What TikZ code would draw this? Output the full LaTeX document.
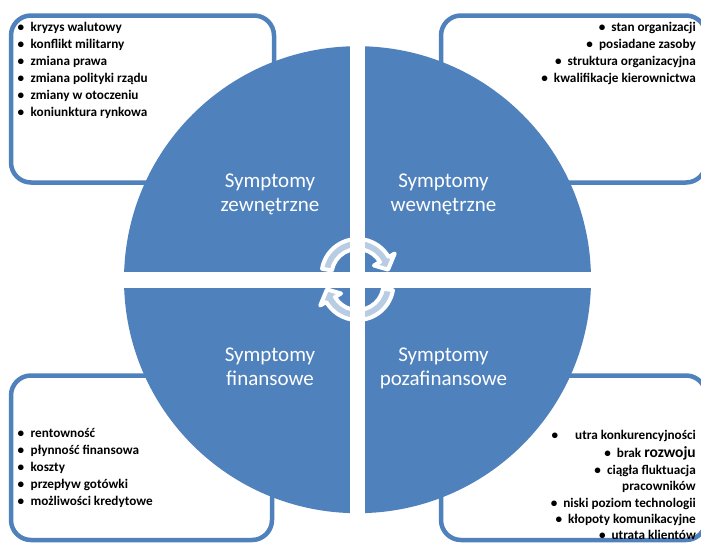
\documentclass[tikz,border=0pt]{standalone}
\usepackage{fontspec}
\setmainfont{Carlito}
\usetikzlibrary{calc}
\definecolor{accent}{HTML}{4F81BD}
\begin{document}
\begin{tikzpicture}[x=1pt,y=1pt,
  box/.style={draw=accent, line width=4.5pt, rounded corners=20pt, fill=white},
  item/.style={font=\fontsize{13.2}{15}\selectfont\bfseries, inner sep=0pt, text=black},
  litem/.style={item, anchor=base west},
  ritem/.style={item, anchor=base east},
  qlabel/.style={font=\fontsize{21}{24}\selectfont, text=white, align=center, inner sep=0pt, anchor=base},
  cyc/.style={fill=white, fill opacity=0.6, draw=white, draw opacity=1, line width=4pt, line join=round}]
\useasboundingbox (0,0) rectangle (701,-544);
% corner boxes
\draw[box] (11,-15.5) rectangle (274,-182.5);
\draw[box] (441,-15.5) rectangle (706,-182.5);
\draw[box] (11,-375.5) rectangle (272,-540);
\draw[box] (441,-375.5) rectangle (706,-540);
% circle with cross
\coordinate (o) at (357.5,-279.7);
\fill[accent] (o) circle (233.5);
\begin{scope}
  \clip (o) circle (234.5);
  \fill[white] (349.5,-30) rectangle (365.3,-530);
  \fill[white] (100,-271.7) rectangle (620,-287.7);
\end{scope}
% cycle arrows
\coordinate (c1) at (357.5,-275);
\coordinate (c2) at (357.5,-284);
\filldraw[cyc] ($(c1)+(170:36)$) arc[start angle=170,end angle=30,radius=36]
  -- ($(c1)+(30:43)$) -- ($(c1)+(10:31)$) -- ($(c1)+(30:19)$) -- ($(c1)+(30:26)$)
  arc[start angle=30,end angle=170,radius=26] -- cycle;
\filldraw[cyc] ($(c2)+(-10:36)$) arc[start angle=-10,end angle=-150,radius=36]
  -- ($(c2)+(-150:43)$) -- ($(c2)+(-170:31)$) -- ($(c2)+(-150:19)$) -- ($(c2)+(-150:26)$)
  arc[start angle=-150,end angle=-10,radius=26] -- cycle;
% quadrant labels
\node[qlabel] (q1) at (270,-211) {Symptomy\\zewnętrzne};
\node[qlabel] (q2) at (443.5,-211) {Symptomy\\wewnętrzne};
\node[qlabel] (q3) at (270,-385) {Symptomy\\finansowe};
\node[qlabel] (q4) at (443.5,-385) {Symptomy\\pozafinansowe};
% top-left list
\node[litem] (tl1) at (17.5,-31) {\makebox[13pt][l]{•}kryzys walutowy};
\node[litem] (tl2) at (17.5,-48) {\makebox[13pt][l]{•}konflikt militarny};
\node[litem] (tl3) at (17.5,-65) {\makebox[13pt][l]{•}zmiana prawa};
\node[litem] (tl4) at (17.5,-82) {\makebox[13pt][l]{•}zmiana polityki rządu};
\node[litem] (tl5) at (17.5,-99) {\makebox[13pt][l]{•}zmiany w otoczeniu};
\node[litem] (tl6) at (17.5,-116) {\makebox[13pt][l]{•}koniunktura rynkowa};
% top-right list
\node[ritem] (tr1) at (696,-31) {•\hspace{6pt}stan organizacji};
\node[ritem] (tr2) at (696,-48) {•\hspace{6pt}posiadane zasoby};
\node[ritem] (tr3) at (696,-65) {•\hspace{6pt}struktura organizacyjna};
\node[ritem] (tr4) at (696,-82) {•\hspace{6pt}kwalifikacje kierownictwa};
% bottom-left list
\node[litem] (bl1) at (17.5,-437) {\makebox[13pt][l]{•}rentowność};
\node[litem] (bl2) at (17.5,-454) {\makebox[13pt][l]{•}płynność finansowa};
\node[litem] (bl3) at (17.5,-471) {\makebox[13pt][l]{•}koszty};
\node[litem] (bl4) at (17.5,-488) {\makebox[13pt][l]{•}przepływ gotówki};
\node[litem] (bl5) at (17.5,-505) {\makebox[13pt][l]{•}możliwości kredytowe};
% bottom-right list
\node[ritem] (br1) at (696,-439) {•\hspace{17pt}utra konkurencyjności};
\node[ritem] (br2) at (696,-457) {•\hspace{6pt}brak {\fontsize{15.5}{15}\selectfont rozwoju}};
\node[ritem] (br3) at (696,-474) {•\hspace{6pt}ciągła fluktuacja};
\node[ritem] (br4) at (696,-490) {pracowników};
\node[ritem] (br5) at (696,-507) {•\hspace{6pt}niski poziom technologii};
\node[ritem] (br6) at (696,-523) {•\hspace{6pt}kłopoty komunikacyjne};
\node[ritem] (br7) at (696,-539) {•\hspace{6pt}utrata klientów};
\end{tikzpicture}
\end{document}
